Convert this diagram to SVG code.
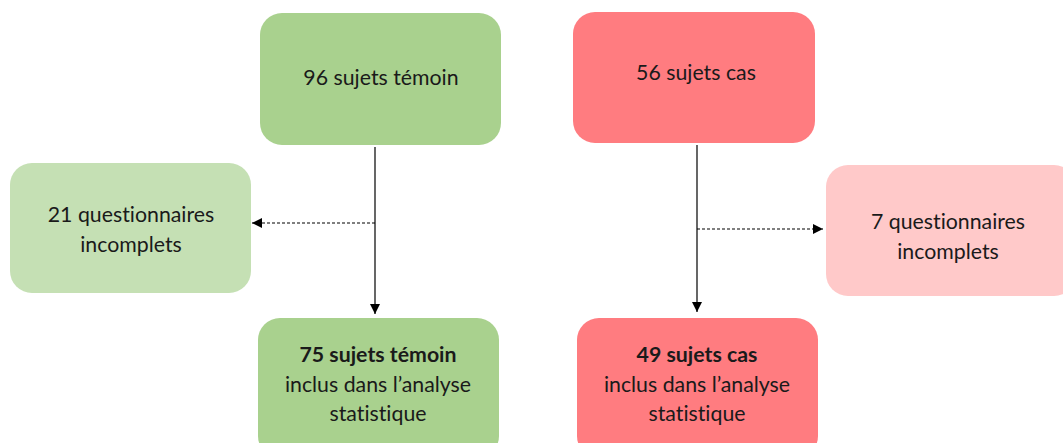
<svg xmlns="http://www.w3.org/2000/svg" width="1063" height="443" viewBox="0 0 1063 443">
<defs>
<marker id="ah" viewBox="0 0 10 10" refX="10" refY="5" markerWidth="11" markerHeight="10" markerUnits="userSpaceOnUse" orient="auto">
<path d="M0,0 L10,5 L0,10 z" fill="#000"/>
</marker>
</defs>
<style>
text{font-family:Lato,"Open Sans",sans-serif;font-size:21.3px;fill:#1a1a1a;text-anchor:middle;font-variant-ligatures:none;font-feature-settings:"liga" 0,"dlig" 0}
.b{font-weight:bold}
.g{fill:#A9D18E}
.lg{fill:#C5E0B4}
.r{fill:#FF7C80}
.lr{fill:#FFC9C9}
.c{stroke:#000;stroke-width:1.2;fill:none}
.d{stroke-dasharray:3,2}
</style>
<rect width="1063" height="443" fill="#fff"/>
<g id="n1"><rect class="g" x="260" y="13" width="241" height="132" rx="22"/><text x="381" y="85">96 sujets témoin</text></g>
<g id="n2"><rect class="lg" x="10" y="163" width="241" height="130" rx="22"/><text x="131" y="222">21 questionnaires</text><text x="131" y="252">incomplets</text></g>
<g id="n3"><rect class="g" x="258" y="318" width="241" height="140" rx="22"/><text class="b" x="378" y="362">75 sujets témoin</text><text x="378" y="392">inclus dans l’analyse</text><text x="378" y="421">statistique</text></g>
<g id="n4"><rect class="r" x="573" y="12" width="242" height="131" rx="22"/><text x="696" y="80">56 sujets cas</text></g>
<g id="n5"><rect class="lr" x="826" y="165" width="250" height="131" rx="22"/><text x="948" y="229">7 questionnaires</text><text x="948" y="259">incomplets</text></g>
<g id="n6"><rect class="r" x="577" y="318" width="241" height="140" rx="22"/><text class="b" x="697" y="362">49 sujets cas</text><text x="697" y="392">inclus dans l’analyse</text><text x="697" y="421">statistique</text></g>
<g id="connectors">
<path class="c" d="M375,147 L375,314" marker-end="url(#ah)"/>
<path class="c d" d="M375,223 L252,223" marker-end="url(#ah)"/>
<path class="c" d="M697,145 L697,312" marker-end="url(#ah)"/>
<path class="c d" d="M697,229 L823,229" marker-end="url(#ah)"/>
</g>
</svg>
